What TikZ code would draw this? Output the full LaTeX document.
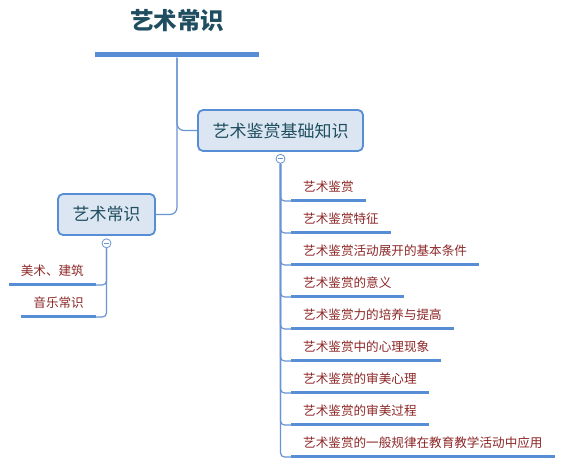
\documentclass[tikz,border=0pt]{standalone}
\definecolor{mainblue}{RGB}{86,141,212}
\definecolor{linkblue}{RGB}{105,148,210}
\definecolor{boxfill}{RGB}{220,230,242}
\definecolor{titleteal}{RGB}{30,78,95}
\definecolor{leafred}{RGB}{140,38,38}
\usepackage{fontspec}
\newfontfamily\cjk{Noto Sans CJK SC}
\usepackage{tikz}
\usetikzlibrary{positioning}
\tikzset{
  topic/.style={rectangle,rounded corners=5pt,draw=mainblue,line width=1.8pt,
                fill=boxfill,inner xsep=0pt,minimum height=41pt,
                font=\cjk\fontsize{17}{20}\selectfont,text=titleteal},
  leaf/.style={inner xsep=12pt,inner ysep=0pt,text height=12pt,text depth=9pt,
               font=\cjk\fontsize{12.6}{15}\selectfont,text=leafred},
  uline/.style={mainblue,line width=3pt},
  link/.style={linkblue,line width=1.2pt,rounded corners=7pt},
  fold/.style={circle,draw=linkblue,fill=white,line width=.8pt,
               minimum size=9pt,inner sep=0pt,
               path picture={\draw[linkblue,line width=.8pt]
                 ([xshift=-2.3pt]path picture bounding box.center) --
                 ([xshift=2.3pt]path picture bounding box.center);}},
}
\begin{document}
\begin{tikzpicture}[x=1pt,y=-1pt]
  \useasboundingbox (0,0) rectangle (566,470);
  % title and its bar
  \node[font=\cjk\bfseries\fontsize{23.5}{26}\selectfont,text=titleteal] (title) at (177,21) {艺术常识};
  \node[fill=mainblue,minimum width=164pt,minimum height=5pt,inner sep=0pt] (bar) at (177,55) {};
  % main topics
  \node[topic,minimum width=165pt] (basic) at (280.5,130.5) {艺术鉴赏基础知识};
  \node[topic,minimum width=97pt] (art) at (106.5,214.5) {艺术常识};
  \draw[link] (bar.south) |- (basic.west);
  \draw[link] (bar.south) |- (art.east);
  \node[fold,below=2pt of basic] (fold1) {};
  \node[fold,below=2.5pt of art] (fold2) {};
  % right branch
  \foreach \i/\l in {1/艺术鉴赏,
                     2/艺术鉴赏特征,
                     3/艺术鉴赏活动展开的基本条件,
                     4/艺术鉴赏的意义,
                     5/艺术鉴赏力的培养与提高,
                     6/艺术鉴赏中的心理现象,
                     7/艺术鉴赏的审美心理,
                     8/艺术鉴赏的审美过程,
                     9/艺术鉴赏的一般规律在教育教学活动中应用}{
    \node[leaf,anchor=south west] (r\i) at (291,{169+32*\i}) {\l};
    \draw[link,rounded corners=4pt] (fold1.south) |- (r\i.south west);
    \draw[uline] (r\i.south west) -- (r\i.south east);
  }
  % left branch
  \foreach \i/\y/\l in {1/285/美术、建筑,
                        2/317/音乐常识}{
    \node[leaf,anchor=south east] (l\i) at (96,\y) {\l};
    \draw[link,rounded corners=4pt] (fold2.south) |- (l\i.south east);
    \draw[uline] (l\i.south west) -- (l\i.south east);
  }
\end{tikzpicture}
\end{document}
